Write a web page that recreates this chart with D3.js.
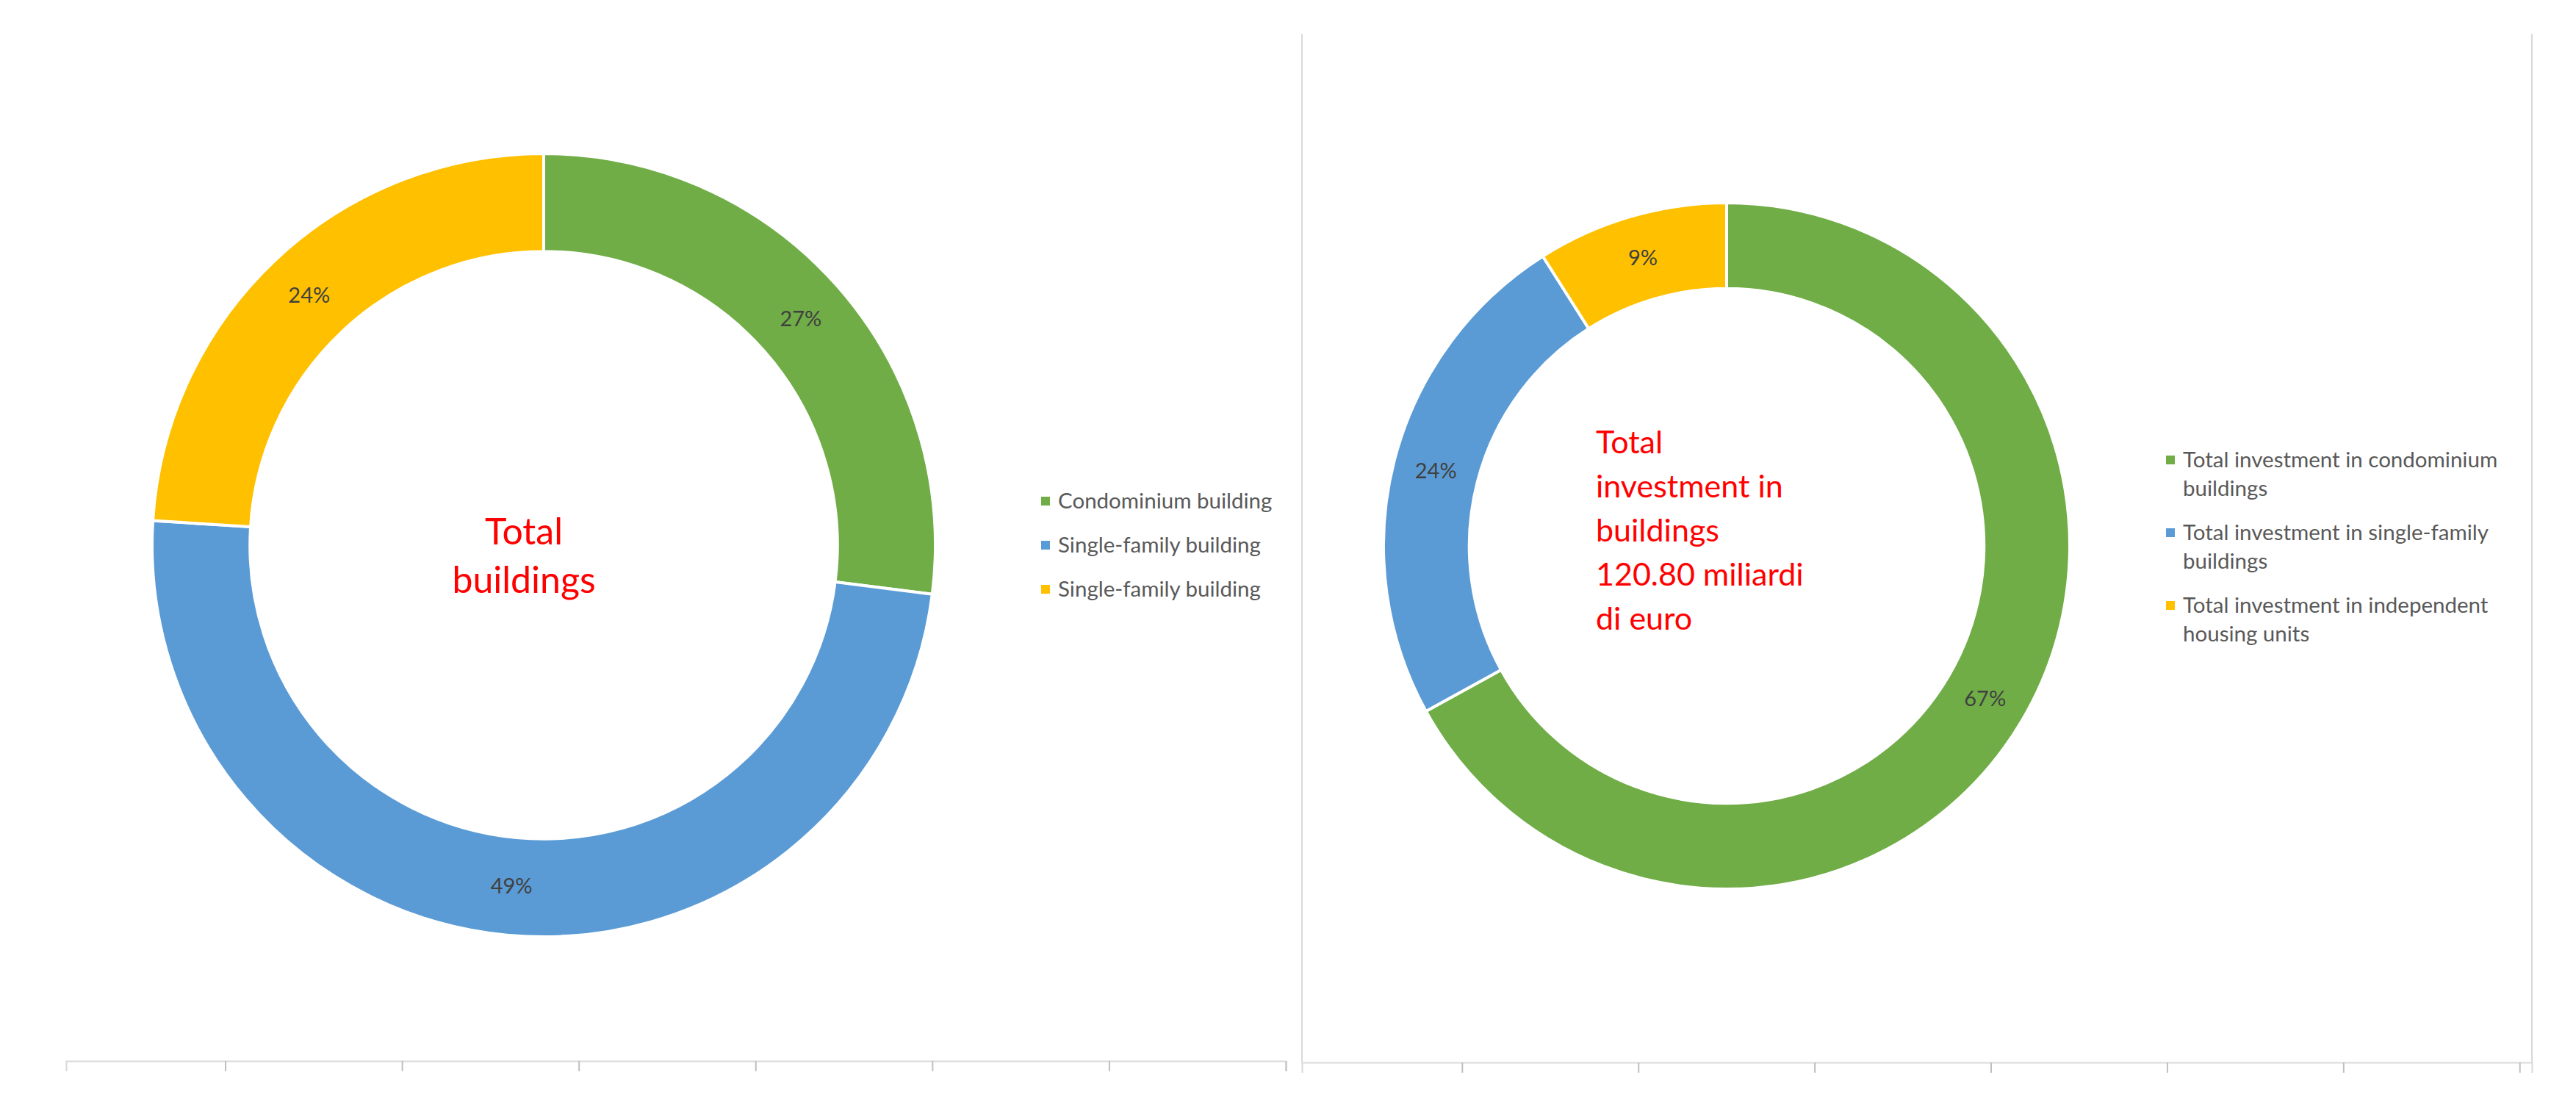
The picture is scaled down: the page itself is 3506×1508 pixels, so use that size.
<!DOCTYPE html>
<html>
<head>
<meta charset="utf-8">
<script src="https://cdn.jsdelivr.net/npm/d3@7"></script>
<style>
  body { margin: 0; background: #fff; }
  svg { display: block; font-family: Lato, "Open Sans", sans-serif; }
</style>
</head>
<body>
<svg id="chart" width="3506" height="1508"></svg>
<script>
var leftCategories = ["Condominium building", "Single-family building", "Single-family building"];
var leftValues = [27, 49, 24];
var leftTitle = ["Total", "buildings"];

var rightCategories = ["Total investment in condominium buildings",
                       "Total investment in single-family buildings",
                       "Total investment in independent housing units"];
var rightValues = [67, 24, 9];
var rightTitle = ["Total", "investment in", "buildings", "120.80 miliardi", "di euro"];

var sliceColors = ["#70AD47", "#5B9BD5", "#FFC000"];
var axisTicks = [0, 1, 2, 3, 4, 5, 6];

var svg = d3.select("#chart");
svg.append("rect").attr("width", 3506).attr("height", 1508).attr("fill", "#fff");

var pie = d3.pie().sort(null).value(function(d) { return d; });

function makeDonut(g, values, radius) {
    var arc = d3.arc()
        .innerRadius(radius * 0.75)
        .outerRadius(radius);

    var slices = g.selectAll(".slice")
        .data(pie(values))
        .enter().append("g")
        .attr("class", "slice");

    slices.append("path")
        .attr("d", arc)
        .attr("fill", function(d, i) { return sliceColors[i]; })
        .attr("stroke", "#fff")
        .attr("stroke-width", 4);

    slices.append("text")
        .attr("transform", function(d) { return "translate(" + arc.centroid(d) + ")"; })
        .attr("dy", 10)
        .attr("text-anchor", "middle")
        .attr("font-size", 29)
        .attr("fill", "#404040")
        .text(function(d) { return d.data + "%"; });
}

// wrap legend labels that are too long
function wrap(text, width, lineHeight) {
    text.each(function() {
        var t = d3.select(this),
            words = t.text().split(/\s+/),
            x = t.attr("x"),
            line = [],
            tspan = t.text(null).append("tspan").attr("x", x).attr("dy", 0);
        words.forEach(function(w) {
            line.push(w);
            tspan.text(line.join(" "));
            if (tspan.node().getComputedTextLength() > width && line.length > 1) {
                line.pop();
                tspan.text(line.join(" "));
                line = [w];
                tspan = t.append("tspan").attr("x", x).attr("dy", lineHeight).text(w);
            }
        });
    });
}

function makeLegend(g, cats, rowGap, maxWidth) {
    var rows = g.selectAll(".row")
        .data(cats)
        .enter().append("g")
        .attr("class", "row")
        .attr("transform", function(d, i) { return "translate(0," + (i * rowGap) + ")"; });

    rows.append("rect")
        .attr("x", 0).attr("y", -6)
        .attr("width", 12).attr("height", 12)
        .attr("fill", function(d, i) { return sliceColors[i]; });

    rows.append("text")
        .attr("x", 23).attr("y", 10)
        .attr("font-size", 29.5)
        .attr("fill", "#595959")
        .text(function(d) { return d; })
        .call(wrap, maxWidth, 39);
}

// Left chart
var left = svg.append("g").attr("transform", "translate(740,742)");
makeDonut(left, leftValues, 533);

svg.append("g")
    .attr("transform", "translate(713,741)")
    .selectAll("text")
    .data(leftTitle)
    .enter().append("text")
    .attr("y", function(d, i) { return i * 66; })
    .attr("text-anchor", "middle")
    .attr("font-size", 50)
    .attr("fill", "#FF0000")
    .text(function(d) { return d; });

makeLegend(svg.append("g").attr("transform", "translate(1417,682)"), leftCategories, 60, 1000);

// Right chart
var right = svg.append("g").attr("transform", "translate(2350,743)");
makeDonut(right, rightValues, 467);

svg.append("g")
    .attr("transform", "translate(2172,617)")
    .selectAll("text")
    .data(rightTitle)
    .enter().append("text")
    .attr("y", function(d, i) { return i * 60; })
    .attr("font-size", 43)
    .attr("fill", "#FF0000")
    .text(function(d) { return d; });

makeLegend(svg.append("g").attr("transform", "translate(2948,626)"), rightCategories, 99, 465);

// Right chart frame sides
svg.append("g")
    .attr("stroke", "#D9D9D9")
    .attr("stroke-width", 2)
    .selectAll("line")
    .data([1772, 3446])
    .enter().append("line")
    .attr("x1", function(d) { return d; })
    .attr("x2", function(d) { return d; })
    .attr("y1", 46).attr("y2", 1446);

// Empty category axes under both charts
var xLeft = d3.scaleLinear().domain([-0.9, 6]).range([90, 1750]);
var xRight = d3.scaleLinear().domain([-0.908, 6.07]).range([1772, 3446]);

function drawAxis(scale, y) {
    var ax = svg.append("g")
        .attr("transform", "translate(0," + y + ")")
        .call(d3.axisBottom(scale).tickValues(axisTicks).tickFormat("").tickSizeOuter(0).tickSize(14));
    ax.select(".domain").attr("stroke", "#D9D9D9").attr("stroke-width", 2);
    ax.selectAll(".tick line").attr("stroke", "#BFBFBF").attr("stroke-width", 2);
}
drawAxis(xLeft, 1444);
drawAxis(xRight, 1446);
</script>
</body>
</html>
